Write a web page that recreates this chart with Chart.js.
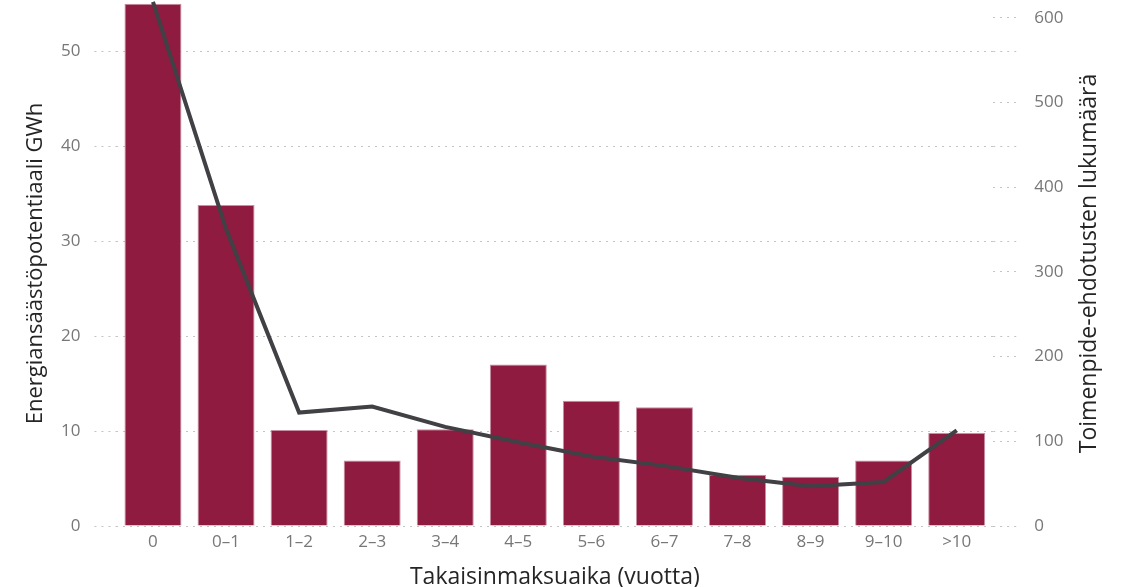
<!DOCTYPE html>
<html>
<head>
<meta charset="utf-8">
<script src="https://cdn.jsdelivr.net/npm/chart.js@4.4.0/dist/chart.umd.min.js"></script>
<style>
  html, body { margin: 0; padding: 0; background: #fff; }
  #wrap { width: 1125px; height: 587px; }
</style>
</head>
<body>
<div id="wrap"><canvas id="paybackChart"></canvas></div>
<script>
var categories = ['0', '0–1', '1–2', '2–3', '3–4', '4–5', '5–6', '6–7', '7–8', '8–9', '9–10', '>10'];
var savingsGWh = [55.0, 33.8, 10.1, 6.9, 10.2, 17.0, 13.2, 12.5, 5.4, 5.2, 6.9, 9.8];
var measureCount = [619, 351, 134, 141, 117, 99, 82, 71, 57, 47, 52, 113];
var leftTicks = [0, 10, 20, 30, 40, 50];
var rightTicks = [0, 100, 200, 300, 400, 500, 600];

var tickFont = { family: 'Open Sans', size: 17 };
var rightTitle = 'Toimenpide-ehdotusten lukumäärä';

function noPad(s) { s.paddingTop = 0; s.paddingBottom = 0; }

// left grid lines run on a bit past the plot, and the right title reads bottom-up
var extras = {
    id: 'extras',
    beforeDatasetsDraw: function (chart) {
        var y = chart.scales.y;
        var ctx = chart.ctx;
        ctx.save();
        ctx.strokeStyle = '#c4c4c4';
        ctx.lineWidth = 1;
        ctx.setLineDash([2, 5]);
        y.ticks.forEach(function (t) {
            var py = Math.round(y.getPixelForValue(t.value)) + 0.5;
            ctx.beginPath();
            ctx.moveTo(chart.chartArea.right, py);
            ctx.lineTo(chart.chartArea.right + 24, py);
            ctx.stroke();
        });
        ctx.restore();
    },
    afterDraw: function (chart) {
        var y1 = chart.scales.y1;
        var ctx = chart.ctx;
        ctx.save();
        ctx.translate(y1.right - 25, (chart.chartArea.top + chart.chartArea.bottom) / 2);
        ctx.rotate(-Math.PI / 2);
        ctx.fillStyle = '#252525';
        ctx.font = '23px "Open Sans"';
        ctx.textAlign = 'center';
        ctx.textBaseline = 'middle';
        ctx.fillText(rightTitle, 0, 0);
        ctx.restore();
    }
};

var ctx = document.getElementById('paybackChart').getContext('2d');
var chart = new Chart(ctx, {
    data: {
        labels: categories,
        datasets: [{
            type: 'line',
            data: measureCount,
            yAxisID: 'y1',
            borderColor: '#404045',
            borderWidth: 4,
            pointRadius: 0,
            tension: 0,
            clip: false,
            order: 0
        }, {
            type: 'bar',
            data: savingsGWh,
            yAxisID: 'y',
            backgroundColor: '#8f1b40',
            borderColor: '#c88ea1',
            borderWidth: 1,
            barPercentage: 0.78,
            categoryPercentage: 1.0,
            order: 1
        }]
    },
    plugins: [extras],
    options: {
        responsive: true,
        maintainAspectRatio: false,
        animation: false,
        layout: { padding: { top: 1, right: 11, left: 19, bottom: -4 } },
        plugins: {
            legend: { display: false },
            tooltip: { enabled: false }
        },
        scales: {
            x: {
                grid: { display: false, drawTicks: false },
                border: { display: false },
                ticks: { color: '#777', font: tickFont, padding: 6 },
                title: {
                    display: true,
                    text: 'Takaisinmaksuaika (vuotta)',
                    color: '#252525',
                    font: { family: 'Open Sans', size: 23 },
                    padding: { top: 5, bottom: 0 }
                }
            },
            y: {
                position: 'left',
                min: 0,
                max: 55.3,
                afterBuildTicks: function (s) {
                    s.ticks = leftTicks.map(function (v) { return { value: v }; });
                },
                afterFit: noPad,
                ticks: { color: '#777', font: tickFont, padding: 14, autoSkip: false },
                grid: { color: '#c4c4c4', tickLength: 22, tickColor: '#c4c4c4', tickBorderDash: [2, 5] },
                border: { display: false, dash: [2, 5] },
                title: {
                    display: true,
                    text: 'Energiansäästöpotentiaali GWh',
                    color: '#252525',
                    font: { family: 'Open Sans', size: 22, lineHeight: 1 },
                    padding: { top: 6, bottom: 0 }
                }
            },
            y1: {
                position: 'right',
                min: 0,
                max: 620,
                afterBuildTicks: function (s) {
                    s.ticks = rightTicks.map(function (v) { return { value: v }; });
                },
                afterFit: noPad,
                ticks: { color: '#777', font: tickFont, padding: 17, autoSkip: false },
                grid: { drawOnChartArea: false, tickLength: 24, color: '#c4c4c4', tickBorderDash: [2, 5] },
                border: { display: false, dash: [2, 5] },
                title: {
                    display: true,
                    text: rightTitle,
                    color: 'rgba(0,0,0,0)',
                    font: { family: 'Open Sans', size: 23 },
                    padding: { top: 6, bottom: 0 }
                }
            }
        }
    }
});
</script>
</body>
</html>
